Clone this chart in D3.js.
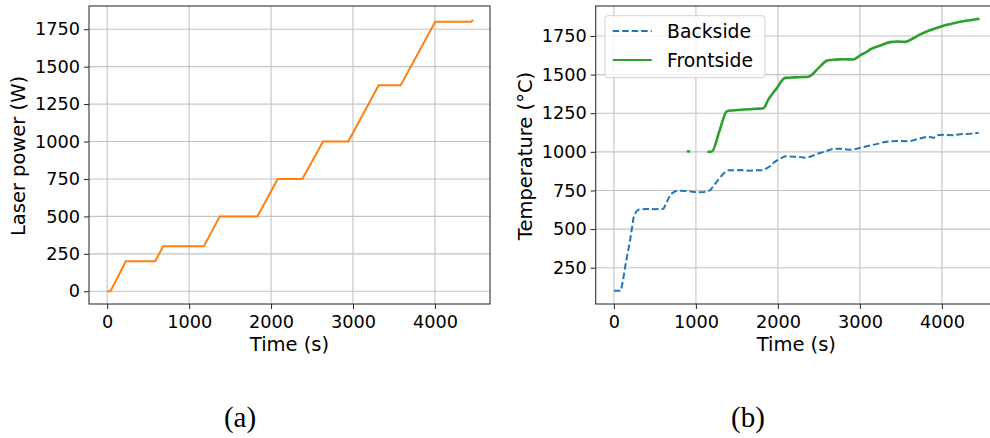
<!DOCTYPE html>
<html><head><meta charset="utf-8">
<script src="https://cdn.jsdelivr.net/npm/d3@7"></script>
<style>
html,body{margin:0;padding:0;background:#fff;}
svg text{font-family:"DejaVu Sans",sans-serif;fill:#000;}
</style></head>
<body>
<svg id="chart" width="990" height="438"></svg>
<script>
// ---- Data ----
const laserTime  = [0, 40, 228, 585, 683, 1179, 1374, 1833, 2081, 2382, 2634, 2943, 3313, 3581, 4004, 4440, 4465];
const laserPower = [0, 0, 200, 200, 300, 300, 500, 500, 750, 750, 1000, 1000, 1375, 1375, 1800, 1800, 1812];

const backTime = [0, 85, 110, 138, 170, 199, 239, 270, 300, 400, 500, 605, 640, 687, 748, 800, 900, 1000, 1100, 1174, 1230, 1276, 1340, 1398, 1450, 1550, 1650, 1750, 1824, 1900, 1960, 2007, 2089, 2150, 2250, 2330, 2394, 2480, 2560, 2678, 2760, 2841, 2920, 3004, 3100, 3200, 3290, 3370, 3480, 3614, 3700, 3817, 3870, 3898, 3939, 4020, 4142, 4250, 4350, 4447];
const backTemp = [100, 100, 165, 259, 350, 432, 573, 612, 626, 630, 629, 631, 668, 723, 745, 748, 746, 738, 740, 751, 790, 821, 862, 881, 880, 882, 878, 881, 881, 905, 935, 950, 972, 970, 968, 962, 968, 987, 1000, 1021, 1020, 1015, 1014, 1026, 1038, 1050, 1062, 1069, 1070, 1069, 1082, 1097, 1094, 1090, 1108, 1110, 1108, 1115, 1117, 1123];

const frontTime = [890, 930, 1000, 1141, 1195, 1290, 1378, 1450, 1550, 1650, 1750, 1824, 1883, 1990, 2060, 2089, 2200, 2300, 2373, 2500, 2590, 2617, 2700, 2800, 2922, 3004, 3085, 3126, 3248, 3370, 3460, 3553, 3650, 3736, 3870, 4000, 4110, 4223, 4340, 4459];
const frontTemp = [1004, 1002, null, 1000, 1002, 1140, 1263, 1268, 1272, 1276, 1279, 1282, 1338, 1415, 1468, 1479, 1482, 1484, 1486, 1545, 1588, 1593, 1597, 1599, 1598, 1625, 1648, 1663, 1688, 1710, 1714, 1712, 1735, 1760, 1790, 1813, 1828, 1842, 1852, 1861];

const xTicks = [0, 1000, 2000, 3000, 4000];
const yTicksA = [0, 250, 500, 750, 1000, 1250, 1500, 1750];
const yTicksB = [250, 500, 750, 1000, 1250, 1500, 1750];
const seriesNames = ["Backside", "Frontside"];
const captions = ["(a)", "(b)"];

// ---- Drawing ----
const svg = d3.select("#chart");
const FS = 17.7;   // tick labels
const LFS = 19.5;  // axis labels
const GFS = 18.8;  // legend
const colors = {laser: "#ff7f0e", back: "#1f77b4", front: "#2ca02c"};

function panel(opts) {
  const g = svg.append("g");
  const x = d3.scaleLinear().domain([-222, 4672]).range([opts.x0, opts.x1]);
  const y = d3.scaleLinear().domain(opts.yDomain).range([304, 6]);
  const clipId = "clip" + opts.id;
  svg.append("clipPath").attr("id", clipId).append("rect")
    .attr("x", opts.x0).attr("y", 6).attr("width", opts.x1 - opts.x0).attr("height", 298);

  // grid
  const grid = g.append("g").attr("stroke", "#c4c4c4").attr("stroke-width", 1.1);
  grid.selectAll(".vx").data(xTicks).join("line")
    .attr("x1", d => x(d)).attr("x2", d => x(d)).attr("y1", 6).attr("y2", 304);
  grid.selectAll(".hy").data(opts.yTicks).join("line")
    .attr("x1", opts.x0).attr("x2", opts.x1).attr("y1", d => y(d)).attr("y2", d => y(d));

  // axes
  const xAxis = d3.axisBottom(x).tickValues(xTicks).tickSize(5).tickPadding(4).tickFormat(d3.format("d"));
  const yAxis = d3.axisLeft(y).tickValues(opts.yTicks).tickSize(5).tickPadding(4).tickFormat(d3.format("d"));
  const gx = g.append("g").attr("transform", `translate(0,304)`).call(xAxis);
  const gy = g.append("g").attr("transform", `translate(${opts.x0},0)`).call(yAxis);
  [gx, gy].forEach(a => {
    a.select(".domain").remove();
    a.selectAll(".tick line").attr("stroke", "#222").attr("stroke-width", 1);
    a.selectAll(".tick text").style("font-size", FS + "px").attr("fill", "#111");
  });
  gx.selectAll(".tick text").attr("dy", null).attr("y", 0).attr("transform", "translate(0,24)");

  // frame
  g.append("rect").attr("x", opts.x0).attr("y", 6).attr("width", opts.x1 - opts.x0).attr("height", 298)
    .attr("fill", "none").attr("stroke", "#333").attr("stroke-width", 1.1);

  // labels
  g.append("text").attr("x", (opts.x0 + opts.x1) / 2).attr("y", 351)
    .attr("text-anchor", "middle").style("font-size", LFS + "px").text("Time (s)");
  g.append("text").attr("transform", `translate(${opts.ylx},156) rotate(-90)`)
    .attr("text-anchor", "middle").style("font-size", LFS + "px").text(opts.ylabel);

  const plot = g.append("g").attr("clip-path", `url(#${clipId})`);
  return {x, y, plot, g};
}

// Panel (a)
const A = panel({id: "a", x0: 89, x1: 490, yDomain: [-85, 1905], yTicks: yTicksA, ylx: 25, ylabel: "Laser power (W)"});
const laserData = laserTime.map((t, i) => [t, laserPower[i]]);
A.plot.append("path").datum(laserData)
  .attr("fill", "none").attr("stroke", colors.laser).attr("stroke-width", 2)
  .attr("d", d3.line().x(d => A.x(d[0])).y(d => A.y(d[1])));

// Panel (b)
const B = panel({id: "b", x0: 595.7, x1: 997, yDomain: [15, 1944], yTicks: yTicksB, ylx: 532, ylabel: "Temperature (°C)"});
const backData = backTime.map((t, i) => [t, backTemp[i]]);
const frontData = frontTime.map((t, i) => [t, frontTemp[i]]);
B.plot.append("path").datum(backData)
  .attr("fill", "none").attr("stroke", colors.back).attr("stroke-width", 2)
  .attr("stroke-dasharray", "6.5,3")
  .attr("d", d3.line().x(d => B.x(d[0])).y(d => B.y(d[1])));
B.plot.append("path").datum(frontData)
  .attr("fill", "none").attr("stroke", colors.front).attr("stroke-width", 2.6)
  .attr("stroke-linejoin", "round")
  .attr("d", d3.line().defined(d => d[1] !== null).curve(d3.curveMonotoneX).x(d => B.x(d[0])).y(d => B.y(d[1])));

// Legend
const leg = svg.append("g");
leg.append("rect").attr("x", 605).attr("y", 15.7).attr("width", 160).attr("height", 62).attr("rx", 3)
  .attr("fill", "#fff").attr("fill-opacity", 0.8).attr("stroke", "#d0d0d0").attr("stroke-width", 1);
const legColors = [colors.back, colors.front];
const legDash = ["6.5,3", null];
seriesNames.forEach((n, i) => {
  const yy = 31 + i * 29;
  leg.append("line").attr("x1", 612.7).attr("x2", 651.7).attr("y1", yy).attr("y2", yy)
    .attr("stroke", legColors[i]).attr("stroke-width", 2).attr("stroke-dasharray", legDash[i]);
  leg.append("text").attr("x", 667).attr("y", yy + 7).style("font-size", GFS + "px").text(n);
});

// Captions
[240, 748].forEach((cx, i) => {
  svg.append("text").attr("x", cx).attr("y", 427).attr("text-anchor", "middle")
    .style("font-family", "'Liberation Serif', serif").style("font-size", "29px").text(captions[i]);
});
</script>
</body></html>
